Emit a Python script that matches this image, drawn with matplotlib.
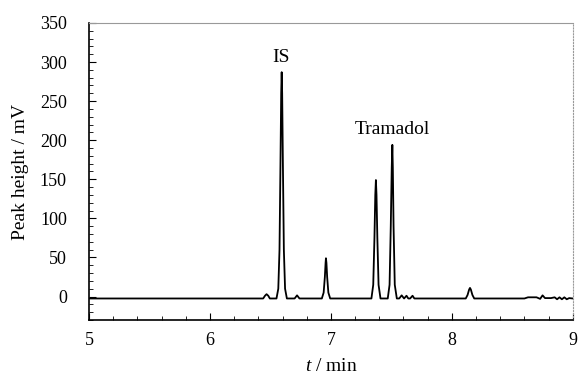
import matplotlib
matplotlib.use("Agg")
import matplotlib.pyplot as plt
from matplotlib.ticker import MultipleLocator

# chromatogram trace (time in min, signal in mV)
t_min = [5.00, 6.44, 6.455, 6.468, 6.482, 6.495,
         6.55, 6.565, 6.575, 6.583, 6.589, 6.593, 6.597, 6.603, 6.611, 6.621, 6.636,
         6.70, 6.72, 6.74,
         6.925, 6.94, 6.95, 6.956, 6.959, 6.963, 6.969, 6.979, 6.994,
         7.335, 7.35, 7.36, 7.367, 7.372, 7.377, 7.384, 7.394, 7.41,
         7.47, 7.485, 7.495, 7.503, 7.508, 7.512, 7.518, 7.528, 7.545,
         7.565, 7.585, 7.605, 7.625, 7.64, 7.655, 7.675, 7.69, 7.71,
         8.115, 8.13, 8.143, 8.15, 8.157, 8.17, 8.185,
         8.60, 8.63, 8.70, 8.73, 8.75, 8.77, 8.82, 8.85, 8.87, 8.89, 8.91, 8.93, 8.95, 8.97, 9.00]
signal = [-2.5, -2.5, 1, 3, 1, -2.5,
          -2.5, 10, 60, 170, 260, 287, 260, 170, 60, 10, -2.5,
          -2.5, 1.5, -2.5,
          -2.5, 5, 25, 43, 49, 43, 25, 5, -2.5,
          -2.5, 15, 75, 130, 149, 130, 75, 15, -2.5,
          -2.5, 15, 90, 165, 194, 165, 90, 15, -2.5,
          -2.5, 1.5, -2.5, 1, -2.5, -2.5, 1, -2.5, -2.5,
          -2.5, 2, 9, 11, 9, 2, -2.5,
          -2.5, -1, -1, -3, 1.5, -2, -2, -1, -3.5, -1, -3.5, -1, -3.5, -2, -2.5]

labels = ["IS", "Tramadol"]
label_t = [6.585, 7.51]
label_y = [295, 203]

plt.rcParams['font.family'] = ['Liberation Serif', 'DejaVu Serif']
plt.rcParams['mathtext.fontset'] = 'custom'
plt.rcParams['mathtext.rm'] = 'Liberation Serif'
plt.rcParams['mathtext.it'] = 'Liberation Serif:italic'

fig = plt.figure(figsize=(5.78, 3.76), dpi=100)
ax = fig.add_axes([0.154, 0.149, 0.837, 0.790])

ax.plot(t_min, signal, color='black', lw=1.3)

for name, x, y in zip(labels, label_t, label_y):
    ax.text(x, y, name, ha='center', va='bottom', fontsize=14)

ax.set_xlim(5, 9)
ax.set_ylim(-30, 350)
ax.xaxis.set_major_locator(MultipleLocator(1))
ax.xaxis.set_minor_locator(MultipleLocator(0.2))
ax.yaxis.set_major_locator(MultipleLocator(50))
ax.yaxis.set_minor_locator(MultipleLocator(10))
ax.tick_params(which='both', direction='in', labelsize=13, top=False, right=False)
ax.tick_params(which='major', length=5)
ax.tick_params(which='minor', length=3)
ax.tick_params(axis='x', pad=9)
ax.tick_params(axis='y', pad=16)

for side in ['top', 'right']:
    ax.spines[side].set_color('#999999')
ax.spines['right'].set_linestyle(':')
ax.spines['left'].set_linewidth(1.2)
ax.spines['bottom'].set_linewidth(1.2)

ax.set_xlabel('$\\it{t}$ / min', fontsize=14, labelpad=6)
ax.set_ylabel('Peak height / mV', fontsize=14, labelpad=8)

fig.savefig('out.png', dpi=100)
